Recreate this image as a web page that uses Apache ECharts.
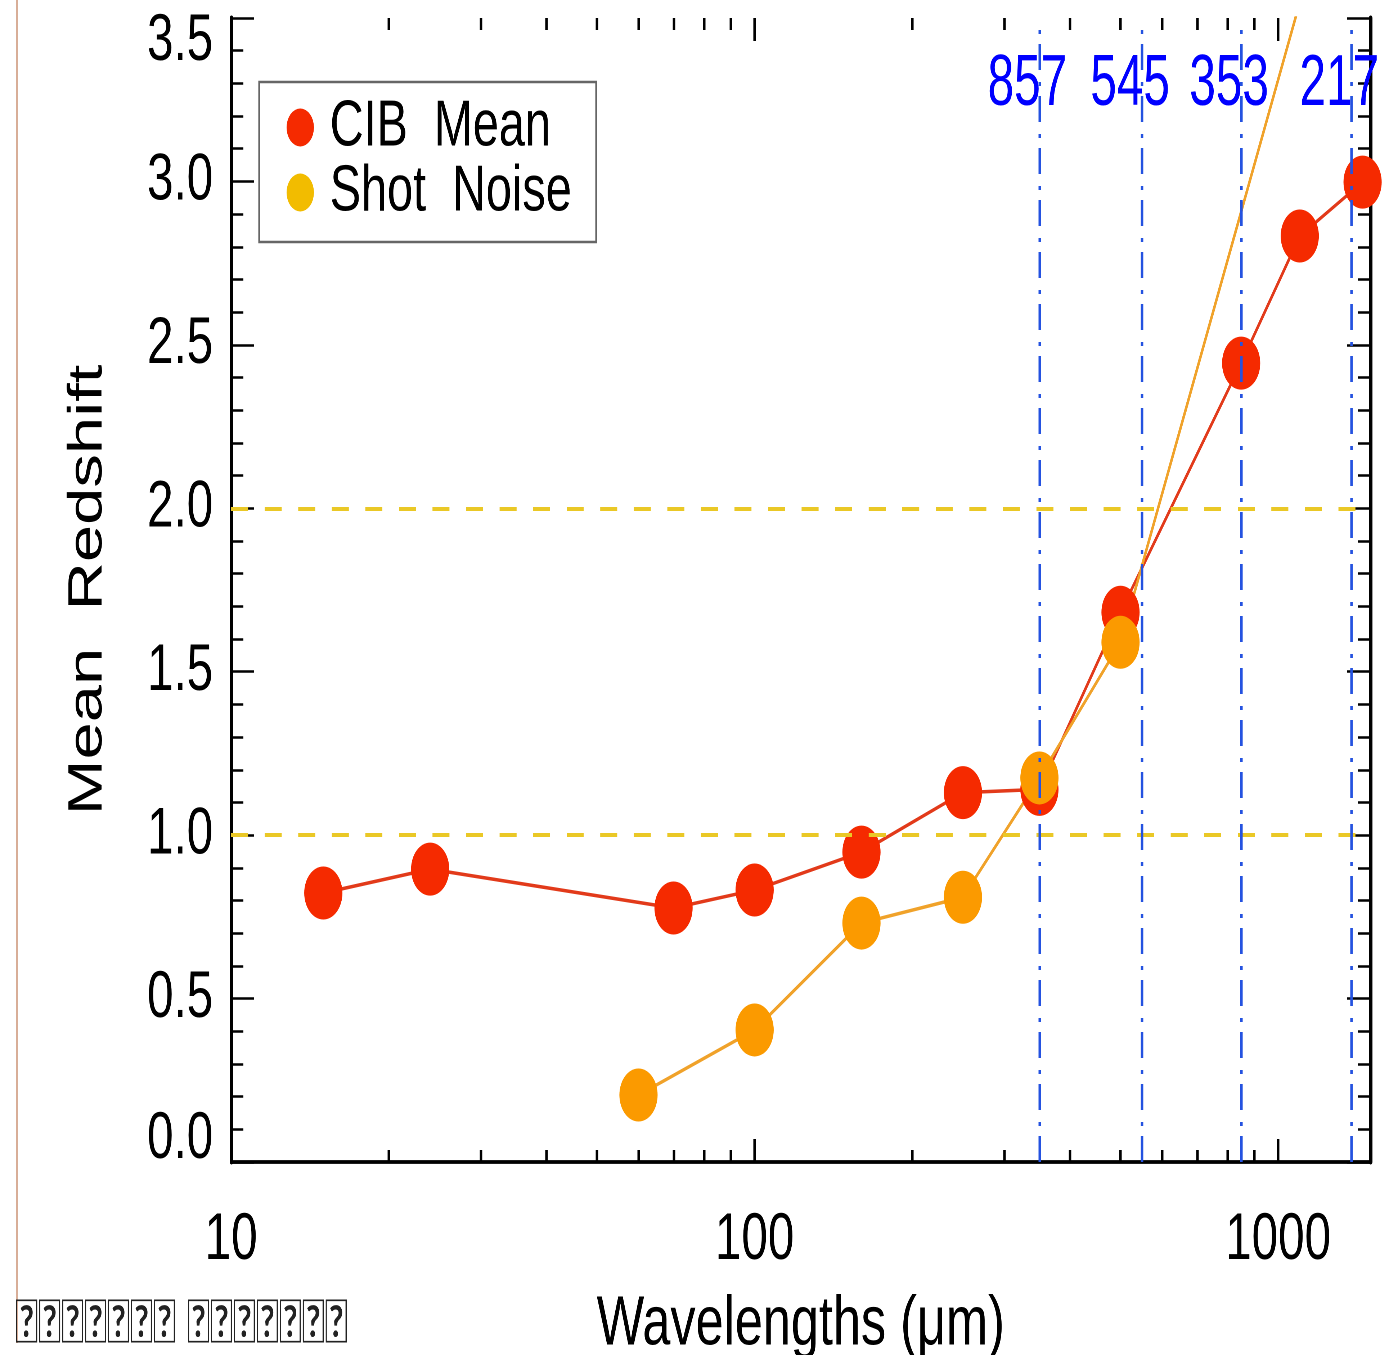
<!DOCTYPE html>
<html>
<head>
<meta charset="utf-8">
<script src="https://cdn.jsdelivr.net/npm/echarts@6/dist/echarts.min.js"></script>
<style>
  html, body { margin: 0; padding: 0; background: #fff; width: 1389px; height: 1355px; overflow: hidden; }
  /* The figure is laid out on a wider canvas and squeezed horizontally */
  #chart { width: 1929px; height: 1355px; transform: scaleX(0.72006); transform-origin: 0 0; }
</style>
</head>
<body>
<div id="chart"></div>
<script>
// Mean redshift of the CIB and of its shot noise versus observed wavelength (µm)
const cibWavelength = [15, 24, 70, 100, 160, 250, 350, 500, 850, 1100, 1450];
const cibRedshift   = [0.823, 0.896, 0.777, 0.832, 0.948, 1.13, 1.14, 1.682, 2.444, 2.833, 2.998];
const shotWavelength = [60, 100, 160, 250, 350, 500, 1380];
const shotRedshift   = [0.205, 0.404, 0.731, 0.81, 1.175, 1.59, 4.11];

// Planck HFI bands (GHz) and their wavelengths (µm)
const planckBands = ['857', '545', '353', '217'];
const planckWavelength = [350, 550, 850, 1380];

// Reference redshifts marked by dashed lines
const referenceRedshifts = [1.0, 2.0];

// Axis ticks and labels
const xLabelValues = [10, 100, 1000];
const xMajorTicks = [10, 100, 1000];
const xMinorTicks = [20, 30, 40, 50, 60, 70, 80, 90, 200, 300, 400, 500, 600, 700, 800, 900];
const yTickLabels = ['0.0', '0.5', '1.0', '1.5', '2.0', '2.5', '3.0', '3.5'];

const SANS = "'Liberation Sans', Arial, sans-serif";

const chart = echarts.init(document.getElementById('chart'), null, { renderer: 'canvas', devicePixelRatio: 2 });

const xMin = 10, xMax = 1500;

// Axis carrying the line (and optionally the labels), no ticks
function xLineAxis(position, withLabels) {
  return {
    type: 'log', logBase: 10, min: xMin, max: xMax, position: position,
    axisLine: { show: true, lineStyle: { color: '#000', width: 3.5 } },
    axisTick: { show: false },
    axisLabel: withLabels ? {
      show: true, customValues: xLabelValues, margin: 46,
      formatter: v => String(Math.round(v)),
      fontFamily: SANS, fontSize: 66, color: '#000'
    } : { show: false },
    splitLine: { show: false }
  };
}
// Axis carrying only inward ticks
function xTickAxis(position, ticks, len) {
  return {
    type: 'log', logBase: 10, min: xMin, max: xMax, position: position,
    axisLine: { show: false },
    axisTick: { show: true, inside: true, length: len, customValues: ticks,
                lineStyle: { color: '#000', width: 3.5 } },
    axisLabel: { show: false },
    splitLine: { show: false }
  };
}
const yLabelFont = { fontFamily: SANS, fontSize: 66, color: '#000' };
function yAxisDef(position, withLabels) {
  return {
    type: 'value', min: 0, max: 3.5, interval: 0.5, position: position,
    axisLine: { show: true, lineStyle: { color: '#000', width: 5 } },
    axisTick: { show: true, inside: true, length: 32, lineStyle: { color: '#000', width: 2.5 } },
    minorTick: { show: true, splitNumber: 5, length: 17, lineStyle: { color: '#000', width: 2.5 } },
    axisLabel: withLabels ? Object.assign({
      show: true, margin: 25,
      // the end labels sit just inside the frame
      formatter: v => {
        const i = Math.round(v / 0.5);
        if (i === 0) return '{lo|' + yTickLabels[i] + '}';
        if (i === yTickLabels.length - 1) return '{hi|' + yTickLabels[i] + '}';
        return yTickLabels[i];
      },
      rich: {
        lo: Object.assign({ padding: [0, 0, 44, 0] }, yLabelFont),
        hi: Object.assign({ padding: [48, 0, 0, 0] }, yLabelFont)
      }
    }, yLabelFont) : { show: false },
    splitLine: { show: false }
  };
}

const bottomAxis = xLineAxis('bottom', true);
Object.assign(bottomAxis, {
  name: 'Wavelengths (\u03BCm)', nameLocation: 'middle', nameGap: 128,
  nameTextStyle: { fontFamily: SANS, fontSize: 70, color: '#000', verticalAlign: 'top' }
});
const leftAxis = yAxisDef('left', true);
Object.assign(leftAxis, {
  name: 'Mean  Redshift', nameLocation: 'middle', nameGap: 165, nameRotate: 90,
  nameTextStyle: { fontFamily: SANS, fontSize: 67, color: '#000' }
});

const option = {
  animation: false,
  backgroundColor: '#fff',
  grid: { left: 321, right: 26, top: 18, bottom: 193, containLabel: false, outerBoundsMode: 'none' },
  xAxis: [
    bottomAxis,
    xLineAxis('top', false),
    xTickAxis('bottom', xMajorTicks, 23),
    xTickAxis('bottom', xMinorTicks, 12),
    xTickAxis('top', xMajorTicks, 23),
    xTickAxis('top', xMinorTicks, 12)
  ],
  yAxis: [leftAxis, yAxisDef('right', false)],
  legend: {
    orient: 'vertical', left: 360, top: 82,
    backgroundColor: '#fff', borderColor: '#666', borderWidth: 2.5, borderRadius: 0,
    padding: [13, 34, 17, 38], itemGap: 0,
    itemWidth: 38, itemHeight: 38,
    textStyle: { fontFamily: SANS, fontSize: 65, color: '#000', padding: [0, 0, 0, 17] },
    data: [
      { name: 'CIB  Mean', icon: 'circle', itemStyle: { color: '#F52A00' } },
      { name: 'Shot  Noise', icon: 'circle', itemStyle: { color: '#F2BC00' } }
    ]
  },
  series: [
    {
      name: 'CIB  Mean', type: 'line', xAxisIndex: 0, yAxisIndex: 0,
      data: cibWavelength.map((w, i) => [w, cibRedshift[i]]),
      symbol: 'circle', symbolSize: 53,
      itemStyle: { color: '#F52A00' },
      lineStyle: { color: '#E23A1A', width: 3.5 },
      markLine: {
        silent: true, symbol: ['none', 'none'], label: { show: false }, z: 10,
        data: [
          ...referenceRedshifts.map(v => ({ yAxis: v,
            lineStyle: { color: '#EAC826', width: 4, type: [23.6, 23] } })),
          ...planckWavelength.map(v => ({ xAxis: v,
            lineStyle: { color: '#2452E0', width: 3.5, type: [26, 10, 4, 12] } }))
        ]
      }
    },
    {
      name: 'Shot  Noise', type: 'line', xAxisIndex: 0, yAxisIndex: 0,
      data: shotWavelength.map((w, i) => [w, shotRedshift[i]]),
      symbol: 'circle', symbolSize: 53,
      itemStyle: { color: '#FB9A00' },
      lineStyle: { color: '#F0A22A', width: 3.5 }
    }
  ]
};
chart.setOption(option);

// Band labels above the Planck wavelength lines, placed from the axis scale
const bandLabels = planckBands.map((band, i) => ({
  type: 'text',
  x: chart.convertToPixel({ xAxisIndex: 0 }, planckWavelength[i]) - 72,
  y: 85, z: 20, scaleX: 0.92,
  style: { text: band, fill: '#0000FF', fontFamily: SANS,
           fontSize: 72, align: 'left', verticalAlign: 'middle' }
}));

chart.setOption({
  graphic: [
    ...bandLabels,
    {
      type: 'line', shape: { x1: 23.6, y1: 0, x2: 23.6, y2: 1343 },
      style: { stroke: '#D8AE98', lineWidth: 2.8 }
    },
    {
      type: 'text', x: 21, y: 1293,
      style: { text: '\uE000\uE001\uE002\uE003\uE004\uE005\uE006 \uE007\uE008\uE009\uE00A\uE00B\uE00C\uE00D',
               fill: '#222', fontFamily: 'Lato', fontSize: 60, align: 'left', verticalAlign: 'top' }
    }
  ]
});
</script>
</body>
</html>
